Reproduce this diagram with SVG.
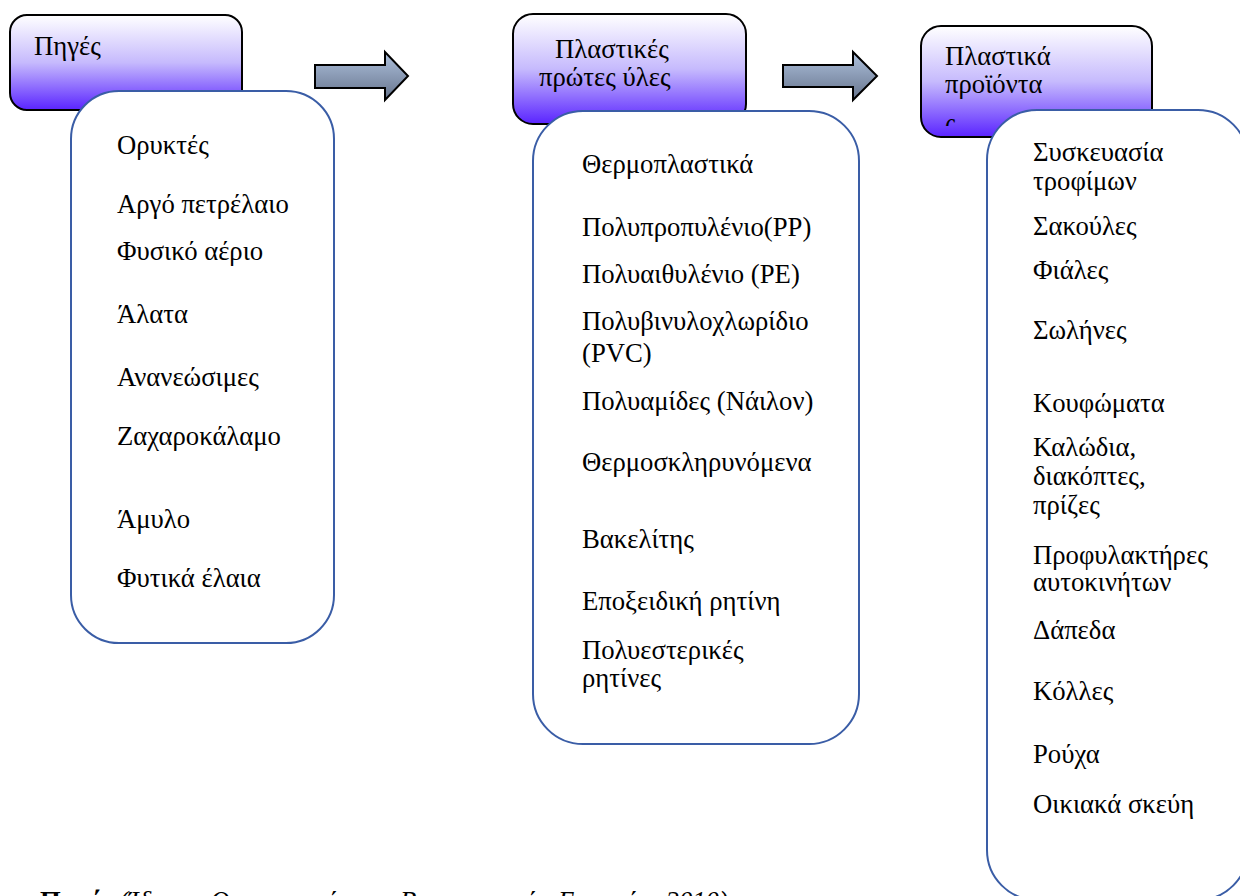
<svg xmlns="http://www.w3.org/2000/svg" width="1240" height="896" viewBox="0 0 1240 896">
<style>
text{font-family:'Liberation Serif','Times New Roman',serif;font-size:26.7px;fill:#000}
.hdr{stroke:#000;stroke-width:2;fill:url(#hg)}
.body{stroke:#3a5da6;stroke-width:2;fill:#fff}
.arr{stroke:#000;stroke-width:2;fill:url(#ag);stroke-linejoin:miter}
</style>
<defs>
<linearGradient id="hg" x1="0" y1="0" x2="0" y2="1">
<stop offset="0" stop-color="#ffffff"/>
<stop offset="0.5" stop-color="#c6bafd"/>
<stop offset="1" stop-color="#5a24ff"/>
</linearGradient>
<linearGradient id="ag" x1="0" y1="0" x2="0" y2="1">
<stop offset="0" stop-color="#aec1dd"/>
<stop offset="1" stop-color="#66748c"/>
</linearGradient>
<clipPath id="c3"><rect x="921" y="26" width="231" height="100"/></clipPath>
</defs>
<rect width="1240" height="896" fill="#fff"/>

<g id="connectors">
<polygon class="arr" points="315,65 385,65 385,52 408,76 385,100 385,88 315,88"/>
<polygon class="arr" points="783,65 853,65 853,52 877,76 853,100 853,87 783,87"/>
</g>

<g id="sources">
<rect class="hdr" x="10" y="15" width="232" height="95" rx="17"/>
<text x="34" y="55">Πηγές</text>
<rect class="body" x="71" y="91" width="263" height="552" rx="48"/>
<text x="117" y="154">Ορυκτές</text>
<text x="117" y="213">Αργό πετρέλαιο</text>
<text x="117" y="260">Φυσικό αέριο</text>
<text x="117" y="323">Άλατα</text>
<text x="117" y="386">Ανανεώσιμες</text>
<text x="117" y="445">Ζαχαροκάλαμο</text>
<text x="117" y="528">Άμυλο</text>
<text x="117" y="587">Φυτικά έλαια</text>
</g>

<g id="raw-materials">
<rect class="hdr" x="513" y="14" width="233" height="110" rx="20"/>
<text x="555" y="58">Πλαστικές</text>
<text x="539" y="86">πρώτες ύλες</text>
<rect class="body" x="533" y="111" width="326" height="633" rx="50"/>
<text x="582" y="173">Θερμοπλαστικά</text>
<text x="582" y="236">Πολυπροπυλένιο(PP)</text>
<text x="582" y="283">Πολυαιθυλένιο (PE)</text>
<text x="582" y="330">Πολυβινυλοχλωρίδιο</text>
<text x="582" y="362">(PVC)</text>
<text x="582" y="410">Πολυαμίδες (Νάιλον)</text>
<text x="582" y="471">Θερμοσκληρυνόμενα</text>
<text x="582" y="548">Βακελίτης</text>
<text x="582" y="610">Εποξειδική ρητίνη</text>
<text x="582" y="659">Πολυεστερικές</text>
<text x="582" y="687">ρητίνες</text>
</g>

<g id="products">
<rect class="hdr" x="921" y="26" width="231" height="111" rx="20"/>
<text x="945" y="65">Πλαστικά</text>
<text x="945" y="93">προϊόντα</text>
<text x="945" y="132" clip-path="url(#c3)">ς</text>
<rect class="body" x="987" y="110" width="261" height="790" rx="50"/>
<text x="1033" y="161">Συσκευασία</text>
<text x="1033" y="190">τροφίμων</text>
<text x="1033" y="235">Σακούλες</text>
<text x="1033" y="279">Φιάλες</text>
<text x="1033" y="339">Σωλήνες</text>
<text x="1033" y="412">Κουφώματα</text>
<text x="1033" y="456">Καλώδια,</text>
<text x="1033" y="485">διακόπτες,</text>
<text x="1033" y="514">πρίζες</text>
<text x="1033" y="564">Προφυλακτήρες</text>
<text x="1033" y="591">αυτοκινήτων</text>
<text x="1033" y="639">Δάπεδα</text>
<text x="1033" y="700">Κόλλες</text>
<text x="1033" y="763">Ρούχα</text>
<text x="1033" y="813">Οικιακά σκεύη</text>
</g>

<g id="caption">
<text x="40" y="910"><tspan font-weight="bold">Πηγή:</tspan> <tspan font-style="italic">(Ίδρυμα Οικονομικών και Βιομηχανικών Ερευνών, 2010)</tspan></text>
</g>
</svg>
